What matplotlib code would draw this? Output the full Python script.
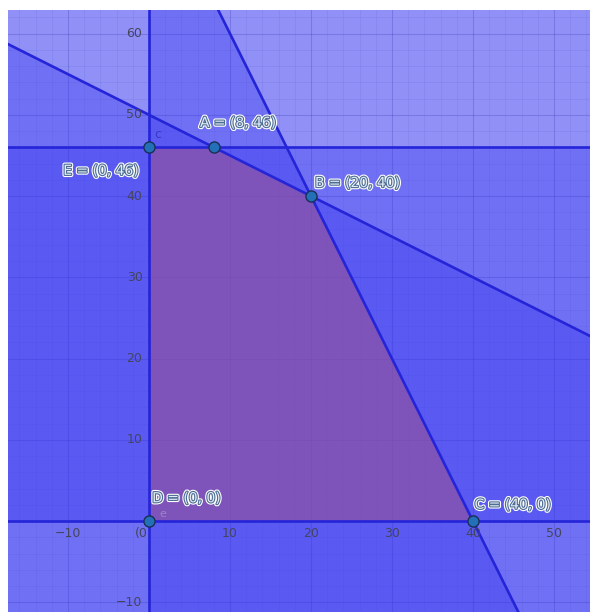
import numpy as np
import matplotlib
matplotlib.use("Agg")
import matplotlib.pyplot as plt
import matplotlib.patheffects as pe
from matplotlib.patches import Polygon

# Constraints a*x + b*y <= c (each shaded half-plane)
con_a = [-1, 0, 0, 1, 2]
con_b = [0, -1, 1, 2, 1]
con_c = [0, 0, 46, 100, 80]

# Vertices of the feasible region
pt_names = ["E", "A", "B", "C", "D"]
pt_x = [0, 8, 20, 40, 0]
pt_y = [46, 46, 40, 0, 0]

x_ticks = [-10, 10, 20, 30, 40, 50]
y_ticks = [-10, 10, 20, 30, 40, 50, 60]

XMIN, XMAX = -17.4, 54.45
YMIN, YMAX = -11.2, 62.9

fig = plt.figure(figsize=(5.9, 6.12), dpi=100)
ax = fig.add_axes([8/590, 0, 582/590, 602/612])
ax.set_xlim(XMIN, XMAX)
ax.set_ylim(YMIN, YMAX)
for s in ax.spines.values():
    s.set_visible(False)
ax.set_xticks([])
ax.set_yticks([])
ax.set_facecolor("white")

# grid
for gx in np.arange(-16, 56, 2):
    major = (gx % 10 == 0)
    ax.axvline(gx, color="#50507a", lw=0.8 if major else 0.6,
               alpha=0.28 if major else 0.11, zorder=0.5)
for gy in np.arange(-10, 64, 2):
    major = (gy % 10 == 0)
    ax.axhline(gy, color="#50507a", lw=0.8 if major else 0.6,
               alpha=0.28 if major else 0.11, zorder=0.5)

def clip_halfplane(poly, a, b, c):
    out = []
    n = len(poly)
    for i in range(n):
        p, q = poly[i], poly[(i + 1) % n]
        fp = a*p[0] + b*p[1] - c
        fq = a*q[0] + b*q[1] - c
        if fp <= 0:
            out.append(p)
        if fp * fq < 0:
            t = fp / (fp - fq)
            out.append((p[0] + t*(q[0]-p[0]), p[1] + t*(q[1]-p[1])))
    return out

box = [(-200, -200), (200, -200), (200, 200), (-200, 200)]
for a, b, c in zip(con_a, con_b, con_c):
    poly = clip_halfplane(box, a, b, c)
    ax.add_patch(Polygon(poly, closed=True, facecolor=(40/255, 40/255, 240/255),
                         alpha=0.30, edgecolor="none", zorder=1))

# boundary lines
xs = np.array([-200, 200])
for a, b, c in zip(con_a, con_b, con_c):
    if b == 0:
        ax.axvline(c / a, color="#2424d8", lw=1.9, zorder=3)
    else:
        ax.plot(xs, (c - a*xs) / b, color="#2424d8", lw=1.9, zorder=3)

# feasible polygon
ax.add_patch(Polygon(list(zip(pt_x, pt_y)), closed=True,
                     facecolor=(200/255, 100/255, 110/255), alpha=0.42,
                     edgecolor="none", zorder=2))

# tick labels
tick_col = "#44445e"
for t in x_ticks:
    ax.text(t, -1.5, "\u2212%d" % -t if t < 0 else str(t), ha="center", va="center",
            fontsize=9, color=tick_col, zorder=4)
for t in y_ticks:
    ax.text(-0.8, t, "\u2212%d" % -t if t < 0 else str(t), ha="right", va="center",
            fontsize=9, color=tick_col, zorder=4)
ax.text(-0.2, -1.5, "(0", ha="right", va="center", fontsize=9, color=tick_col, zorder=4)

# points
ax.plot(pt_x, pt_y, "o", ms=8, mfc="#2470b8", mec="#1a2f55", mew=1.0, zorder=6, ls="none")

effects = [pe.Stroke(linewidth=3.2, foreground="white"),
           pe.Stroke(linewidth=1.6, foreground="#4d6c92"),
           pe.Normal()]
label_off = {"A": (-1.7, 3.0, "left"), "B": (0.5, 1.6, "left"),
             "C": (0.2, 2.0, "left"), "D": (0.4, 2.8, "left"),
             "E": (-1.3, -2.9, "right")}
for n, x, y in zip(pt_names, pt_x, pt_y):
    dx, dy, ha = label_off[n]
    ax.text(x + dx, y + dy, "%s = (%d, %d)" % (n, x, y), ha=ha, va="center",
            fontsize=10, color="#e4ecf7", path_effects=effects, zorder=7)

ax.text(0.6, 47.6, "c", fontsize=9, color="#3838c8", ha="left", va="center", zorder=5)
ax.text(1.3, 0.9, "e", fontsize=8, color="#9a86c0", ha="left", va="center", zorder=5)

fig.savefig("out.png", dpi=100)
